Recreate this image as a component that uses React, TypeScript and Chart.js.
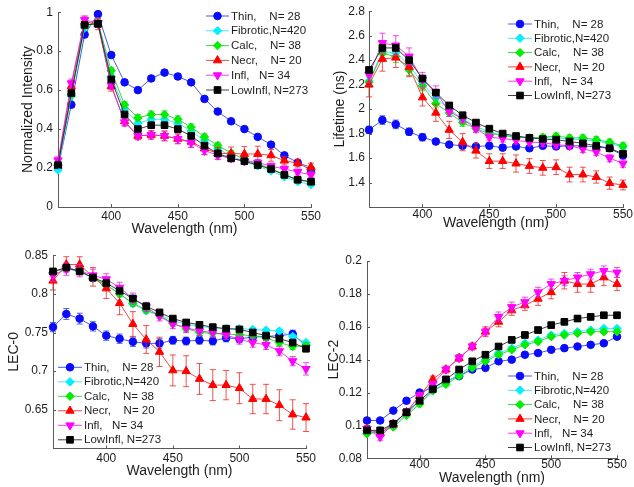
import React, { useEffect, useRef } from 'react';
import { Chart, registerables } from 'chart.js';

Chart.register(...registerables);

// ---------------- DATA ----------------
const WAVELENGTHS = [360, 370, 380, 390, 400, 410, 420, 430, 440, 450, 460, 470, 480, 490, 500, 510, 520, 530, 540, 550];
const X_TICKS = [400, 450, 500, 550];
const SERIES_NAMES = ['Thin,    N= 28', 'Fibrotic,N=420', 'Calc,    N= 38', 'Necr,    N= 20', 'Infl,   N= 34', 'LowInfl, N=273'];
const X_TITLE = 'Wavelength (nm)';

// Panel 1: Normalized Intensity
const INT_RANGE = [0, 1];
const INT_TICKS = [0, 0.2, 0.4, 0.6, 0.8, 1];
const INT_THIN = [0.20, 0.525, 0.885, 0.99, 0.78, 0.64, 0.60, 0.66, 0.69, 0.67, 0.64, 0.555, 0.49, 0.44, 0.40, 0.36, 0.32, 0.265, 0.228, 0.19];
const INT_FIB = [0.19, 0.57, 0.92, 0.95, 0.67, 0.50, 0.43, 0.45, 0.45, 0.43, 0.39, 0.34, 0.30, 0.26, 0.235, 0.21, 0.185, 0.155, 0.13, 0.115];
const INT_CALC = [0.22, 0.58, 0.93, 0.95, 0.70, 0.525, 0.458, 0.475, 0.475, 0.45, 0.41, 0.36, 0.316, 0.277, 0.245, 0.222, 0.197, 0.165, 0.14, 0.128];
const INT_NECR = [0.225, 0.62, 0.95, 0.94, 0.62, 0.44, 0.365, 0.37, 0.365, 0.35, 0.335, 0.30, 0.275, 0.275, 0.272, 0.272, 0.265, 0.238, 0.225, 0.205];
const INT_INFL = [0.24, 0.635, 0.96, 0.945, 0.625, 0.435, 0.365, 0.37, 0.365, 0.35, 0.33, 0.29, 0.265, 0.25, 0.235, 0.228, 0.21, 0.195, 0.18, 0.165];
const INT_LOW = [0.215, 0.585, 0.935, 0.94, 0.655, 0.475, 0.40, 0.42, 0.42, 0.40, 0.365, 0.315, 0.275, 0.25, 0.235, 0.215, 0.195, 0.165, 0.14, 0.13];
const INT_THIN_ERR = [0.010, 0.012, 0.012, 0.010, 0.012, 0.012, 0.012, 0.013, 0.014, 0.014, 0.013, 0.012, 0.011, 0.010, 0.009, 0.009, 0.008, 0.008, 0.008, 0.008];
const INT_FIB_ERR = [0.004, 0.005, 0.005, 0.005, 0.005, 0.005, 0.005, 0.005, 0.005, 0.005, 0.005, 0.005, 0.004, 0.004, 0.004, 0.004, 0.004, 0.004, 0.004, 0.004];
const INT_CALC_ERR = [0.012, 0.015, 0.015, 0.015, 0.015, 0.016, 0.017, 0.018, 0.018, 0.018, 0.017, 0.016, 0.015, 0.014, 0.013, 0.012, 0.012, 0.011, 0.011, 0.010];
const INT_NECR_ERR = [0.020, 0.030, 0.030, 0.030, 0.025, 0.022, 0.020, 0.022, 0.025, 0.025, 0.028, 0.030, 0.030, 0.033, 0.038, 0.040, 0.030, 0.022, 0.020, 0.020];
const INT_INFL_ERR = [0.018, 0.022, 0.020, 0.020, 0.022, 0.020, 0.018, 0.020, 0.025, 0.025, 0.025, 0.022, 0.020, 0.018, 0.017, 0.016, 0.015, 0.015, 0.015, 0.015];
const INT_LOW_ERR = [0.006, 0.008, 0.008, 0.008, 0.008, 0.008, 0.008, 0.008, 0.008, 0.008, 0.007, 0.007, 0.006, 0.006, 0.006, 0.006, 0.005, 0.005, 0.005, 0.005];

// Panel 2: Lifetime (ns)
const LT_RANGE = [1.2, 2.8];
const LT_TICKS = [1.4, 1.6, 1.8, 2, 2.2, 2.4, 2.6, 2.8];
const LT_THIN = [1.83, 1.91, 1.875, 1.815, 1.77, 1.735, 1.71, 1.70, 1.695, 1.70, 1.685, 1.695, 1.68, 1.70, 1.695, 1.70, 1.70, 1.69, 1.68, 1.62];
const LT_FIB = [2.23, 2.47, 2.46, 2.36, 2.21, 2.09, 2.0, 1.92, 1.86, 1.81, 1.79, 1.775, 1.765, 1.765, 1.765, 1.755, 1.75, 1.74, 1.72, 1.69];
const LT_CALC = [2.22, 2.455, 2.43, 2.32, 2.19, 2.045, 1.97, 1.89, 1.84, 1.80, 1.785, 1.77, 1.765, 1.77, 1.78, 1.765, 1.765, 1.75, 1.73, 1.70];
const LT_NECR = [2.20, 2.41, 2.42, 2.345, 2.095, 1.97, 1.83, 1.73, 1.66, 1.575, 1.575, 1.555, 1.535, 1.52, 1.525, 1.465, 1.465, 1.445, 1.395, 1.38];
const LT_INFL = [2.28, 2.54, 2.52, 2.43, 2.24, 2.14, 1.98, 1.92, 1.84, 1.77, 1.76, 1.745, 1.73, 1.725, 1.71, 1.70, 1.675, 1.65, 1.60, 1.555];
const LT_LOW = [2.32, 2.50, 2.50, 2.40, 2.25, 2.135, 2.03, 1.95, 1.89, 1.84, 1.80, 1.78, 1.765, 1.755, 1.75, 1.735, 1.72, 1.70, 1.68, 1.635];
const LT_THIN_ERR = [0.03, 0.035, 0.035, 0.03, 0.03, 0.025, 0.02, 0.02, 0.02, 0.02, 0.02, 0.02, 0.02, 0.02, 0.02, 0.02, 0.02, 0.02, 0.02, 0.02];
const LT_FIB_ERR = [0.012, 0.012, 0.012, 0.012, 0.01, 0.01, 0.01, 0.01, 0.01, 0.01, 0.01, 0.01, 0.01, 0.01, 0.01, 0.01, 0.01, 0.01, 0.01, 0.01];
const LT_CALC_ERR = [0.04, 0.05, 0.05, 0.045, 0.04, 0.035, 0.03, 0.03, 0.025, 0.025, 0.025, 0.025, 0.025, 0.025, 0.025, 0.025, 0.025, 0.025, 0.025, 0.025];
const LT_NECR_ERR = [0.10, 0.10, 0.08, 0.08, 0.07, 0.07, 0.07, 0.07, 0.06, 0.06, 0.06, 0.07, 0.06, 0.06, 0.06, 0.06, 0.06, 0.05, 0.05, 0.04];
const LT_INFL_ERR = [0.06, 0.08, 0.08, 0.07, 0.06, 0.05, 0.04, 0.035, 0.03, 0.03, 0.03, 0.03, 0.03, 0.03, 0.03, 0.03, 0.03, 0.03, 0.03, 0.03];
const LT_LOW_ERR = [0.015, 0.015, 0.015, 0.015, 0.015, 0.015, 0.015, 0.015, 0.015, 0.015, 0.015, 0.015, 0.015, 0.015, 0.015, 0.015, 0.015, 0.015, 0.015, 0.015];

// Panel 3: LEC-0
const L0_RANGE = [0.6, 0.85];
const L0_TICKS = [0.65, 0.7, 0.75, 0.8, 0.85];
const L0_THIN = [0.757, 0.774, 0.768, 0.758, 0.746, 0.742, 0.738, 0.736, 0.736, 0.740, 0.739, 0.740, 0.739, 0.743, 0.742, 0.744, 0.745, 0.746, 0.748, 0.733];
const L0_FIB = [0.828, 0.833, 0.829, 0.821, 0.812, 0.800, 0.787, 0.778, 0.773, 0.765, 0.761, 0.758, 0.756, 0.755, 0.755, 0.754, 0.753, 0.752, 0.745, 0.737];
const L0_CALC = [0.828, 0.834, 0.830, 0.820, 0.811, 0.800, 0.788, 0.779, 0.772, 0.762, 0.755, 0.750, 0.749, 0.748, 0.747, 0.746, 0.743, 0.737, 0.732, 0.733];
const L0_NECR = [0.817, 0.838, 0.838, 0.822, 0.807, 0.788, 0.761, 0.741, 0.725, 0.701, 0.700, 0.690, 0.682, 0.682, 0.678, 0.664, 0.664, 0.656, 0.644, 0.640];
const L0_INFL = [0.824, 0.832, 0.830, 0.824, 0.819, 0.808, 0.794, 0.783, 0.771, 0.761, 0.756, 0.752, 0.750, 0.747, 0.741, 0.737, 0.734, 0.726, 0.713, 0.703];
const L0_LOW = [0.829, 0.834, 0.829, 0.821, 0.814, 0.804, 0.794, 0.784, 0.776, 0.768, 0.763, 0.760, 0.757, 0.755, 0.754, 0.750, 0.746, 0.742, 0.737, 0.729];
const L0_THIN_ERR = [0.006, 0.007, 0.007, 0.006, 0.006, 0.006, 0.006, 0.006, 0.006, 0.005, 0.005, 0.005, 0.005, 0.005, 0.005, 0.005, 0.005, 0.005, 0.005, 0.005];
const L0_FIB_ERR = [0.002, 0.002, 0.002, 0.002, 0.002, 0.002, 0.002, 0.002, 0.002, 0.002, 0.002, 0.002, 0.002, 0.002, 0.002, 0.002, 0.002, 0.002, 0.002, 0.002];
const L0_CALC_ERR = [0.004, 0.004, 0.004, 0.004, 0.004, 0.004, 0.004, 0.004, 0.004, 0.004, 0.004, 0.004, 0.004, 0.004, 0.004, 0.004, 0.004, 0.004, 0.004, 0.004];
const L0_NECR_ERR = [0.012, 0.010, 0.010, 0.012, 0.013, 0.015, 0.016, 0.018, 0.019, 0.020, 0.020, 0.020, 0.020, 0.019, 0.020, 0.019, 0.019, 0.020, 0.019, 0.018];
const L0_INFL_ERR = [0.008, 0.008, 0.008, 0.008, 0.007, 0.007, 0.007, 0.006, 0.006, 0.006, 0.006, 0.006, 0.006, 0.006, 0.006, 0.006, 0.006, 0.006, 0.006, 0.008];
const L0_LOW_ERR = [0.003, 0.003, 0.003, 0.003, 0.003, 0.003, 0.003, 0.003, 0.003, 0.003, 0.003, 0.003, 0.003, 0.003, 0.003, 0.003, 0.003, 0.003, 0.003, 0.003];

// Panel 4: LEC-2
const L2_RANGE = [0.08, 0.2];
const L2_TICKS = [0.08, 0.1, 0.12, 0.14, 0.16, 0.18, 0.2];
const L2_THIN = [0.103, 0.103, 0.109, 0.115, 0.120, 0.123, 0.127, 0.130, 0.134, 0.135, 0.139, 0.140, 0.143, 0.144, 0.146, 0.147, 0.148, 0.149, 0.150, 0.154];
const L2_FIB = [0.095, 0.097, 0.100, 0.107, 0.114, 0.121, 0.126, 0.131, 0.136, 0.140, 0.144, 0.147, 0.150, 0.152, 0.155, 0.156, 0.157, 0.158, 0.159, 0.159];
const L2_CALC = [0.095, 0.096, 0.099, 0.106, 0.113, 0.121, 0.125, 0.130, 0.135, 0.139, 0.143, 0.146, 0.149, 0.151, 0.154, 0.155, 0.156, 0.157, 0.157, 0.157];
const L2_NECR = [0.098, 0.095, 0.101, 0.108, 0.118, 0.128, 0.134, 0.141, 0.148, 0.157, 0.163, 0.170, 0.173, 0.177, 0.181, 0.188, 0.186, 0.186, 0.190, 0.186];
const L2_INFL = [0.098, 0.093, 0.101, 0.108, 0.118, 0.125, 0.134, 0.141, 0.148, 0.157, 0.166, 0.172, 0.175, 0.181, 0.186, 0.188, 0.190, 0.192, 0.194, 0.193];
const L2_LOW = [0.097, 0.097, 0.101, 0.108, 0.115, 0.122, 0.128, 0.134, 0.139, 0.143, 0.148, 0.152, 0.155, 0.158, 0.161, 0.163, 0.165, 0.166, 0.167, 0.167];
const L2_THIN_ERR = [0.001, 0.001, 0.001, 0.001, 0.001, 0.001, 0.001, 0.001, 0.001, 0.001, 0.001, 0.001, 0.001, 0.001, 0.001, 0.001, 0.001, 0.001, 0.001, 0.001];
const L2_FIB_ERR = [0.0008, 0.0008, 0.0008, 0.0008, 0.0008, 0.0008, 0.0008, 0.0008, 0.0008, 0.0008, 0.0008, 0.0008, 0.0008, 0.0008, 0.0008, 0.0008, 0.0008, 0.0008, 0.0008, 0.0008];
const L2_CALC_ERR = [0.001, 0.001, 0.001, 0.001, 0.001, 0.001, 0.001, 0.001, 0.001, 0.001, 0.001, 0.001, 0.001, 0.001, 0.001, 0.001, 0.001, 0.001, 0.001, 0.001];
const L2_NECR_ERR = [0.002, 0.002, 0.002, 0.002, 0.002, 0.002, 0.002, 0.002, 0.002, 0.003, 0.003, 0.003, 0.003, 0.004, 0.004, 0.005, 0.005, 0.005, 0.005, 0.004];
const L2_INFL_ERR = [0.002, 0.002, 0.002, 0.002, 0.002, 0.002, 0.002, 0.002, 0.002, 0.002, 0.003, 0.003, 0.003, 0.003, 0.003, 0.003, 0.003, 0.003, 0.003, 0.003];
const L2_LOW_ERR = [0.0008, 0.0008, 0.0008, 0.0008, 0.0008, 0.0008, 0.0008, 0.0008, 0.0008, 0.0008, 0.0008, 0.0008, 0.0008, 0.0008, 0.0008, 0.0008, 0.0008, 0.0008, 0.0008, 0.0008];

// ---------------- STYLES ----------------
const FONT = "'Liberation Sans', Arial, Helvetica, sans-serif";
const AXIS_COLOR = '#5a5a5a';
const TEXT_COLOR = '#1e1e1e';

const STYLES = [
  { color: '#0a0aff', line: 'rgba(40,60,225,0.85)', err: 'rgba(40,60,225,0.8)', shape: 'circle', r: 3.8, rot: 0 },
  { color: '#00f0ff', line: 'rgba(60,225,240,0.9)', err: 'rgba(60,225,240,0.8)', shape: 'rectRot', r: 4.2, rot: 0 },
  { color: '#00ee00', line: 'rgba(40,200,40,0.85)', err: 'rgba(40,200,40,0.8)', shape: 'rectRot', r: 4.2, rot: 0 },
  { color: '#ff0000', line: 'rgba(235,40,40,0.85)', err: 'rgba(235,40,40,0.8)', shape: 'triangle', r: 4.8, rot: 0 },
  { color: '#ff00ff', line: 'rgba(235,30,235,0.85)', err: 'rgba(235,30,235,0.8)', shape: 'triangle', r: 4.8, rot: 180 },
  { color: '#000000', line: 'rgba(30,30,30,0.85)', err: 'rgba(30,30,30,0.8)', shape: 'rect', r: 4.7, rot: 0 },
];

type PanelCfg = {
  values: number[][];
  errors: number[][];
  range: number[];
  yTicks: number[];
  yTitle: string;
  box: { left: number; top: number; width: number; height: number };
  pad: { left: number; top: number; right: number; bottom: number };
  yWidth: number;
  xHeight: number;
  yTitlePad: number;
  xTitlePad: number;
  yTickPad: number;
  xTickPad: number;
  legend: { lineX0: number; lineX1: number; textX: number; y0: number; dy: number };
};

const PANELS: PanelCfg[] = [
  {
    values: [INT_THIN, INT_FIB, INT_CALC, INT_NECR, INT_INFL, INT_LOW],
    errors: [INT_THIN_ERR, INT_FIB_ERR, INT_CALC_ERR, INT_NECR_ERR, INT_INFL_ERR, INT_LOW_ERR],
    range: INT_RANGE, yTicks: INT_TICKS, yTitle: 'Normalized Intensity',
    box: { left: 0, top: 0, width: 330, height: 243 },
    pad: { left: 0, top: 12, right: 19, bottom: 0 },
    yWidth: 58, xHeight: 36, yTitlePad: 20, xTitlePad: 5.6, yTickPad: 5, xTickPad: 2,
    legend: { lineX0: 206, lineX1: 229, textX: 231, y0: 16, dy: 14.8 },
  },
  {
    values: [LT_THIN, LT_FIB, LT_CALC, LT_NECR, LT_INFL, LT_LOW],
    errors: [LT_THIN_ERR, LT_FIB_ERR, LT_CALC_ERR, LT_NECR_ERR, LT_INFL_ERR, LT_LOW_ERR],
    range: LT_RANGE, yTicks: LT_TICKS, yTitle: 'Lifetime (ns)',
    box: { left: 320, top: 0, width: 314, height: 243 },
    pad: { left: 0, top: 11, right: 11, bottom: 0 },
    yWidth: 49, xHeight: 36, yTitlePad: 11.6, xTitlePad: 11, yTickPad: 4, xTickPad: 0,
    legend: { lineX0: 188, lineX1: 212, textX: 214, y0: 24, dy: 14.3 },
  },
  {
    values: [L0_THIN, L0_FIB, L0_CALC, L0_NECR, L0_INFL, L0_LOW],
    errors: [L0_THIN_ERR, L0_FIB_ERR, L0_CALC_ERR, L0_NECR_ERR, L0_INFL_ERR, L0_LOW_ERR],
    range: L0_RANGE, yTicks: L0_TICKS, yTitle: 'LEC-0',
    box: { left: 0, top: 243, width: 320, height: 244 },
    pad: { left: 0, top: 10.3, right: 14, bottom: 0 },
    yWidth: 53, xHeight: 38.5, yTitlePad: 6.1, xTitlePad: 7.8, yTickPad: 5, xTickPad: 3,
    legend: { lineX0: 58, lineX1: 82, textX: 84, y0: 124.3, dy: 14.5 },
  },
  {
    values: [L2_THIN, L2_FIB, L2_CALC, L2_NECR, L2_INFL, L2_LOW],
    errors: [L2_THIN_ERR, L2_FIB_ERR, L2_CALC_ERR, L2_NECR_ERR, L2_INFL_ERR, L2_LOW_ERR],
    range: L2_RANGE, yTicks: L2_TICKS, yTitle: 'LEC-2',
    box: { left: 320, top: 243, width: 314, height: 244 },
    pad: { left: 0, top: 18, right: 17, bottom: 0 },
    yWidth: 47, xHeight: 28.7, yTitlePad: 5.3, xTitlePad: 0.5, yTickPad: 5, xTickPad: -1,
    legend: { lineX0: 188, lineX1: 212, textX: 214, y0: 133, dy: 14.3 },
  },
];

function drawMarker(ctx: CanvasRenderingContext2D, shape: string, x: number, y: number, r: number, rot: number, color: string) {
  ctx.save();
  ctx.fillStyle = color;
  ctx.strokeStyle = color;
  ctx.lineWidth = 1;
  ctx.beginPath();
  if (shape === 'circle') {
    ctx.arc(x, y, r, 0, Math.PI * 2);
  } else if (shape === 'rect') {
    const s = r * Math.SQRT1_2;
    ctx.rect(x - s, y - s, 2 * s, 2 * s);
  } else if (shape === 'rectRot') {
    ctx.moveTo(x, y - r);
    ctx.lineTo(x + r, y);
    ctx.lineTo(x, y + r);
    ctx.lineTo(x - r, y);
    ctx.closePath();
  } else {
    const a0 = (rot * Math.PI) / 180;
    for (let k = 0; k < 3; k++) {
      const a = a0 + (k * 2 * Math.PI) / 3;
      const px = x + Math.sin(a) * r;
      const py = y - Math.cos(a) * r;
      if (k === 0) ctx.moveTo(px, py);
      else ctx.lineTo(px, py);
    }
    ctx.closePath();
  }
  ctx.fill();
  ctx.stroke();
  ctx.restore();
}

function buildConfig(cfg: PanelCfg): any {
  const fmt = (v: number) => String(Math.round(v * 1000) / 1000);
  const datasets = cfg.values.map((vals, i) => {
    const st = STYLES[i];
    return {
      label: SERIES_NAMES[i],
      data: WAVELENGTHS.map((w, j) => ({ x: w, y: vals[j] })),
      borderColor: st.line,
      backgroundColor: st.color,
      pointBackgroundColor: st.color,
      pointBorderColor: st.color,
      pointStyle: st.shape,
      pointRadius: st.r,
      pointRotation: st.rot,
      pointBorderWidth: 1,
      borderWidth: 1,
      tension: 0,
      fill: false,
      clip: false,
      order: 6 - i,
    };
  });

  const errorBars = {
    id: 'errorBars',
    beforeDatasetDraw(chart: any, args: any) {
      const i = args.index;
      const vals = cfg.values[i];
      const errs = cfg.errors[i];
      const xs = chart.scales.x;
      const ys = chart.scales.y;
      const ctx = chart.ctx as CanvasRenderingContext2D;
      ctx.save();
      ctx.strokeStyle = STYLES[i].err;
      ctx.lineWidth = 1;
      ctx.beginPath();
      WAVELENGTHS.forEach((w, j) => {
        const x = xs.getPixelForValue(w);
        const y1 = ys.getPixelForValue(vals[j] - errs[j]);
        const y2 = ys.getPixelForValue(vals[j] + errs[j]);
        ctx.moveTo(x, y1);
        ctx.lineTo(x, y2);
        ctx.moveTo(x - 3, y1);
        ctx.lineTo(x + 3, y1);
        ctx.moveTo(x - 3, y2);
        ctx.lineTo(x + 3, y2);
      });
      ctx.stroke();
      ctx.restore();
    },
  };

  const decorations = {
    id: 'decorations',
    afterDraw(chart: any) {
      const ctx = chart.ctx as CanvasRenderingContext2D;
      const area = chart.chartArea;
      const xs = chart.scales.x;
      const ys = chart.scales.y;
      // inward tick marks
      ctx.save();
      ctx.strokeStyle = AXIS_COLOR;
      ctx.lineWidth = 1;
      ctx.beginPath();
      X_TICKS.forEach((t) => {
        const x = Math.round(xs.getPixelForValue(t)) + 0.5;
        ctx.moveTo(x, area.bottom);
        ctx.lineTo(x, area.bottom - 3);
      });
      cfg.yTicks.forEach((t) => {
        const y = Math.round(ys.getPixelForValue(t)) + 0.5;
        ctx.moveTo(area.left, y);
        ctx.lineTo(area.left + 3, y);
      });
      ctx.stroke();
      ctx.restore();
      // legend
      const lg = cfg.legend;
      SERIES_NAMES.forEach((name, i) => {
        const st = STYLES[i];
        const y = lg.y0 + i * lg.dy;
        ctx.save();
        ctx.strokeStyle = st.line;
        ctx.lineWidth = 1;
        ctx.beginPath();
        ctx.moveTo(lg.lineX0, y);
        ctx.lineTo(lg.lineX1, y);
        ctx.stroke();
        ctx.restore();
        drawMarker(ctx, st.shape, (lg.lineX0 + lg.lineX1) / 2, y, st.r, st.rot, st.color);
        ctx.save();
        ctx.fillStyle = TEXT_COLOR;
        ctx.font = `11.5px ${FONT}`;
        ctx.textBaseline = 'middle';
        ctx.textAlign = 'left';
        ctx.fillText(name, lg.textX, y + 0.5);
        ctx.restore();
      });
    },
  };

  return {
    type: 'line',
    data: { datasets },
    options: {
      animation: false,
      responsive: false,
      maintainAspectRatio: false,
      events: [],
      layout: { padding: cfg.pad },
      plugins: { legend: { display: false }, tooltip: { enabled: false }, title: { display: false } },
      scales: {
        x: {
          type: 'linear',
          min: WAVELENGTHS[0],
          max: WAVELENGTHS[WAVELENGTHS.length - 1],
          afterBuildTicks: (s: any) => {
            s.ticks = X_TICKS.map((v) => ({ value: v }));
          },
          afterFit: (s: any) => {
            s.height = cfg.xHeight;
          },
          grid: { display: false, drawTicks: false, tickLength: 0 },
          border: { display: true, color: AXIS_COLOR, width: 1 },
          ticks: { color: TEXT_COLOR, font: { family: FONT, size: 12 }, padding: cfg.xTickPad, maxRotation: 0, autoSkip: false, callback: (v: number) => fmt(v) },
          title: { display: true, text: X_TITLE, color: TEXT_COLOR, font: { family: FONT, size: 14 }, padding: { top: 0, bottom: cfg.xTitlePad } },
        },
        y: {
          type: 'linear',
          min: cfg.range[0],
          max: cfg.range[1],
          afterBuildTicks: (s: any) => {
            s.ticks = cfg.yTicks.map((v) => ({ value: v }));
          },
          afterFit: (s: any) => {
            s.width = cfg.yWidth;
          },
          grid: { display: false, drawTicks: false, tickLength: 0 },
          border: { display: true, color: AXIS_COLOR, width: 1 },
          ticks: { color: TEXT_COLOR, font: { family: FONT, size: 12 }, padding: cfg.yTickPad, autoSkip: false, callback: (v: number) => fmt(v) },
          title: { display: true, text: cfg.yTitle, color: TEXT_COLOR, font: { family: FONT, size: 14 }, padding: { top: cfg.yTitlePad, bottom: 0 } },
        },
      },
    },
    plugins: [errorBars, decorations],
  };
}

function Panel({ cfg }: { cfg: PanelCfg }) {
  const ref = useRef<HTMLCanvasElement>(null);
  useEffect(() => {
    if (!ref.current) return;
    const chart = new Chart(ref.current, buildConfig(cfg));
    return () => chart.destroy();
  }, [cfg]);
  const { left, top, width, height } = cfg.box;
  return (
    <div style={{ position: 'absolute', left, top, width, height }}>
      <canvas ref={ref} width={width} height={height} style={{ width, height, display: 'block' }} />
    </div>
  );
}

export default function App() {
  return (
    <div style={{ position: 'absolute', left: 0, top: 0, width: 634, height: 487, background: '#ffffff', overflow: 'hidden' }}>
      {PANELS.map((p, i) => (
        <Panel key={i} cfg={p} />
      ))}
    </div>
  );
}
